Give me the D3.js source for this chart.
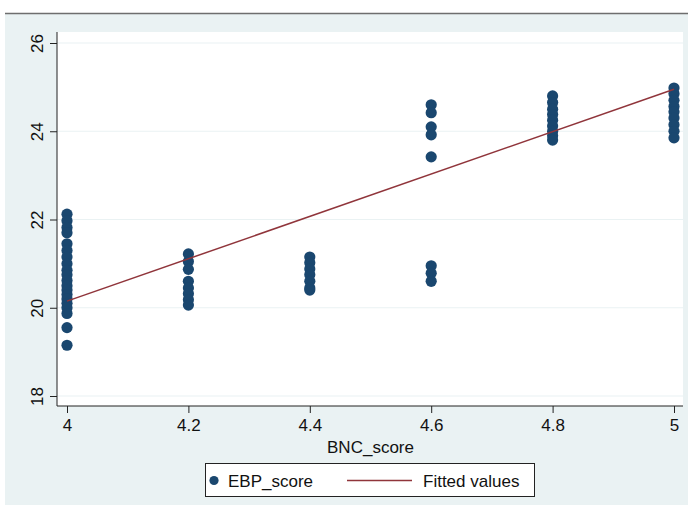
<!DOCTYPE html>
<html>
<head>
<meta charset="utf-8">
<script src="https://cdn.jsdelivr.net/npm/d3@7/dist/d3.min.js"></script>
<style>
  html, body { margin: 0; padding: 0; background: #ffffff; }
  svg { display: block; font-family: "Liberation Sans", Arial, Helvetica, sans-serif; }
</style>
</head>
<body>
<svg id="chart" width="688" height="507"></svg>
<script>
// BNC_score groups and the EBP_score observations in each
const bncLevels = [4.0, 4.2, 4.4, 4.6, 4.8, 5.0];
const ebpAt40 = [22.12, 21.97, 21.82, 21.7, 21.45, 21.3, 21.15, 21.0, 20.85, 20.75, 20.62, 20.5, 20.4, 20.3, 20.2, 20.1, 20.0, 19.87, 19.55, 19.15];
const ebpAt42 = [21.22, 21.05, 20.87, 20.6, 20.45, 20.32, 20.18, 20.06];
const ebpAt44 = [21.15, 21.02, 20.88, 20.75, 20.6, 20.45, 20.4];
const ebpAt46 = [24.6, 24.42, 24.1, 23.92, 23.42, 20.95, 20.78, 20.6];
const ebpAt48 = [24.8, 24.65, 24.5, 24.38, 24.25, 24.12, 24.0, 23.9, 23.8];
const ebpAt50 = [24.98, 24.85, 24.7, 24.56, 24.44, 24.3, 24.15, 24.0, 23.85];

// Linear fit endpoints
const fitX = [4.0, 5.0];
const fitY = [20.15, 24.95];

// Axis ticks and labels
const xTicks = [4, 4.2, 4.4, 4.6, 4.8, 5];
const yTicks = [18, 20, 22, 24, 26];
const xTitle = "BNC_score";
const legendLabels = ["EBP_score", "Fitted values"];

const groups = [ebpAt40, ebpAt42, ebpAt44, ebpAt46, ebpAt48, ebpAt50];
const points = [];
groups.forEach((vals, i) => vals.forEach(v => points.push({ x: bncLevels[i], y: v })));

const navy = "#1a476f";
const maroon = "#90353b";
const bgColor = "#eaf2f3";
const fontSize = "17px";

const svg = d3.select("#chart");

// graph region
svg.append("rect").attr("x", 5).attr("y", 13).attr("width", 683).attr("height", 492).attr("fill", bgColor);
svg.append("line").attr("x1", 5).attr("x2", 688).attr("y1", 13.5).attr("y2", 13.5)
  .attr("stroke", "#6e6e6e").attr("stroke-width", 1.5);

// plot region
const plot = { left: 57, right: 683, top: 32, bottom: 406 };
svg.append("rect").attr("x", plot.left).attr("y", plot.top)
  .attr("width", plot.right - plot.left).attr("height", plot.bottom - plot.top).attr("fill", "#ffffff");

const x = d3.scaleLinear().domain([4, 5]).range([67, 674]);
const y = d3.scaleLinear().domain([18, 26]).range([396, 43]);

// gridlines
svg.append("g").selectAll("line").data(yTicks).join("line")
  .attr("x1", plot.left).attr("x2", plot.right)
  .attr("y1", d => y(d)).attr("y2", d => y(d))
  .attr("stroke", bgColor).attr("stroke-width", 1.2);

// y axis
const yAxis = svg.append("g").attr("transform", `translate(${plot.left},0)`)
  .call(d3.axisLeft(y).tickValues(yTicks).tickSize(7).tickSizeOuter(0).tickFormat(d3.format("d")));
yAxis.select(".domain").attr("d", `M0,${plot.top}V${plot.bottom}`).attr("stroke", "#222");
yAxis.selectAll(".tick line").attr("stroke", "#222");
yAxis.selectAll(".tick text")
  .attr("x", null).attr("dy", null)
  .attr("transform", "translate(-14,0) rotate(-90)")
  .attr("text-anchor", "middle")
  .attr("font-size", fontSize).attr("fill", "#111")
  .attr("font-family", "'Liberation Sans', Arial, sans-serif");

// x axis
const xAxis = svg.append("g").attr("transform", `translate(0,${plot.bottom})`)
  .call(d3.axisBottom(x).tickValues(xTicks).tickSize(7).tickSizeOuter(0).tickFormat(d => d3.format("")(d)));
xAxis.select(".domain").attr("d", `M${plot.left},0H${plot.right}`).attr("stroke", "#222");
xAxis.selectAll(".tick line").attr("stroke", "#222");
xAxis.selectAll(".tick text")
  .attr("y", 25).attr("dy", null)
  .attr("font-size", fontSize).attr("fill", "#111")
  .attr("font-family", "'Liberation Sans', Arial, sans-serif");

svg.append("text").attr("x", x(4.5)).attr("y", 453).attr("text-anchor", "middle")
  .attr("font-size", fontSize).attr("fill", "#111").text(xTitle);

// scatter
svg.append("g").selectAll("circle").data(points).join("circle")
  .attr("cx", d => x(d.x)).attr("cy", d => y(d.y)).attr("r", 5.6)
  .attr("fill", navy);

// fitted line
svg.append("path")
  .datum(fitX.map((v, i) => [v, fitY[i]]))
  .attr("d", d3.line().x(d => x(d[0])).y(d => y(d[1])))
  .attr("fill", "none").attr("stroke", maroon).attr("stroke-width", 1.5);

// legend
const lg = svg.append("g");
lg.append("rect").attr("x", 205.5).attr("y", 463.5).attr("width", 329).attr("height", 33)
  .attr("fill", "#fff").attr("stroke", "#222").attr("stroke-width", 1);
lg.append("circle").attr("cx", 214).attr("cy", 480.5).attr("r", 4.6).attr("fill", navy);
lg.append("text").attr("x", 228).attr("y", 487).attr("font-size", fontSize).attr("fill", "#111").text(legendLabels[0]);
lg.append("line").attr("x1", 347).attr("x2", 412).attr("y1", 480.5).attr("y2", 480.5)
  .attr("stroke", maroon).attr("stroke-width", 1.5);
lg.append("text").attr("x", 423).attr("y", 487).attr("font-size", fontSize).attr("fill", "#111").text(legendLabels[1]);
</script>
</body>
</html>
